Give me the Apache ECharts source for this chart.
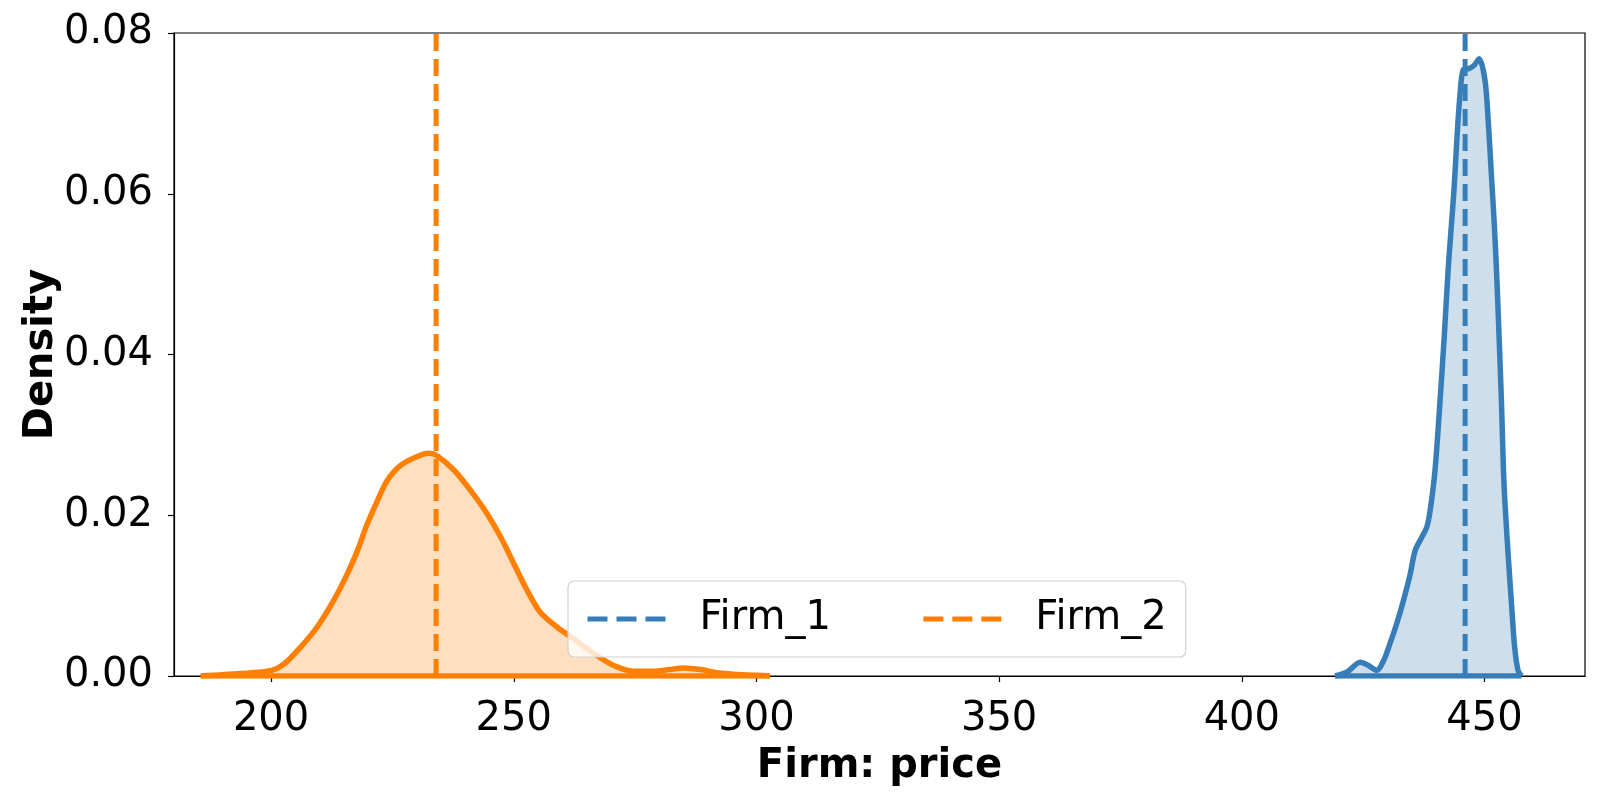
<!DOCTYPE html>
<html>
<head>
<meta charset="utf-8">
<script src="https://cdn.jsdelivr.net/npm/echarts@6/dist/echarts.min.js"></script>
<style>
  html, body { margin: 0; padding: 0; background: #fff; }
  #chart { width: 1600px; height: 800px; }
</style>
</head>
<body>
<div id="chart"></div>
<script>
// density curves
const firm1Price = [419.2, 421.7, 424.4, 426.1, 427.8, 429.2, 430.5, 431.9, 433.3, 434.7, 435.7, 437.1, 438.1, 438.8, 439.8, 440.8, 441.7, 442.5, 443.1, 443.7, 444.3, 444.9, 445.6, 446.9, 447.9, 448.9, 450.1, 450.8, 451.4, 452.0, 452.5, 453.0, 453.5, 453.9, 454.3, 454.9, 455.6, 456.2, 456.9, 457.6]
const firm1Density = [0.0, 0.0005, 0.0017, 0.0013, 0.0007, 0.0019, 0.004, 0.0065, 0.0094, 0.0127, 0.0156, 0.0173, 0.0185, 0.0206, 0.0256, 0.0339, 0.0422, 0.0505, 0.0555, 0.0604, 0.0667, 0.0720, 0.0754, 0.0756, 0.0760, 0.0768, 0.0741, 0.0687, 0.0625, 0.0563, 0.0500, 0.0422, 0.0339, 0.0256, 0.0206, 0.0148, 0.0086, 0.0036, 0.0007, 0.0]

const firm2Price = [185.5, 193.7, 200.1, 202.7, 206.1, 209.5, 212.9, 215.7, 217.8, 219.8, 221.9, 223.9, 226.7, 230.1, 232.5, 234.2, 237.7, 241.1, 244.5, 247.3, 250.0, 252.8, 255.5, 258.9, 262.4, 266.5, 270.6, 274.7, 278.8, 282.0, 285.0, 288.5, 292.0, 296.0, 300.0, 302.8]
const firm2Density = [0.0, 0.0003, 0.0007, 0.0015, 0.0036, 0.0061, 0.0094, 0.0127, 0.0156, 0.0189, 0.0218, 0.0243, 0.0262, 0.0273, 0.0277, 0.0274, 0.0256, 0.0231, 0.0202, 0.0173, 0.0140, 0.0106, 0.0079, 0.0061, 0.0046, 0.0028, 0.0013, 0.0006, 0.0006, 0.0008, 0.001, 0.0008, 0.0004, 0.0002, 0.0001, 0.0]

const firmNames = ['Firm_1', 'Firm_2']
const firmMeans = [446, 234]
const xTicks = [200, 250, 300, 350, 400, 450]
const yTicks = [0, 0.02, 0.04, 0.06, 0.08]

const colors = ['#377eb8', '#ff7f00']
const font = 'DejaVu Sans'

const zip = (xs, ys) => xs.map((x, i) => [x, ys[i]])
const curves = [zip(firm1Price, firm1Density), zip(firm2Price, firm2Density)]

const series = []
curves.forEach((pts, i) => {
  series.push({
    name: firmNames[i] + ' kde',
    type: 'line',
    data: pts,
    smooth: 0.3,
    symbol: 'none',
    lineStyle: { color: colors[i], width: 5.5 },
    areaStyle: { color: colors[i], opacity: 0.25, origin: 'start' },
    z: 2
  })
  // polygon edge along the baseline
  series.push({
    name: firmNames[i] + ' base',
    type: 'line',
    data: [[pts[0][0], 0], [pts[pts.length - 1][0], 0]],
    symbol: 'none',
    lineStyle: { color: colors[i], width: 5.5 },
    z: 2
  })
})
firmNames.forEach((name, i) => {
  series.push({
    name: name,
    type: 'line',
    data: [[firmMeans[i], yTicks[0]], [firmMeans[i], yTicks[yTicks.length - 1]]],
    symbol: 'none',
    lineStyle: { color: colors[i], width: 5, type: [17, 8] },
    itemStyle: { color: colors[i] },
    z: 3
  })
})

const chart = echarts.init(document.getElementById('chart'))
chart.setOption({
  animation: false,
  backgroundColor: '#fff',
  grid: {
    left: 174, right: 15, top: 33, bottom: 124,
    show: true, borderColor: '#000', borderWidth: 1.2, backgroundColor: 'transparent'
  },
  legend: {
    data: firmNames,
    left: 568, top: 581,
    orient: 'horizontal',
    padding: [14, 19, 14, 17],
    itemGap: 90,
    itemWidth: 80,
    itemHeight: 14,
    backgroundColor: 'rgba(255,255,255,0.8)',
    borderColor: '#d0d0d0',
    borderWidth: 1.2,
    borderRadius: 6,
    itemStyle: { opacity: 0 },
    lineStyle: { width: 5, type: [20, 9] },
    textStyle: { fontFamily: font, fontSize: 40, color: '#000', padding: [0, 0, 0, 27], lineHeight: 48 }
  },
  xAxis: {
    type: 'value',
    min: 180,
    max: 470.7,
    name: 'Firm: price',
    nameLocation: 'middle',
    nameGap: 71,
    nameTextStyle: { fontFamily: font, fontSize: 40, fontWeight: 'bold', color: '#000' },
    axisLine: { show: true, onZero: false, lineStyle: { color: '#000', width: 1.2 } },
    axisTick: { show: true, length: 6, lineStyle: { color: '#000', width: 1.2 }, customValues: xTicks },
    axisLabel: { fontFamily: font, fontSize: 40, color: '#000', margin: 24, customValues: xTicks },
    splitLine: { show: false }
  },
  yAxis: {
    type: 'value',
    min: 0,
    max: 0.08,
    interval: 0.02,
    name: 'Density',
    nameLocation: 'middle',
    nameGap: 112,
    nameMoveOverlap: false,
    nameTextStyle: { fontFamily: font, fontSize: 40, fontWeight: 'bold', color: '#000' },
    axisLine: { show: true, lineStyle: { color: '#000', width: 1.2 } },
    axisTick: { show: true, length: 6, lineStyle: { color: '#000', width: 1.2 } },
    axisLabel: { fontFamily: font, fontSize: 40, color: '#000', margin: 21, formatter: v => v.toFixed(2) },
    splitLine: { show: false }
  },
  series: series
})
</script>
</body>
</html>
